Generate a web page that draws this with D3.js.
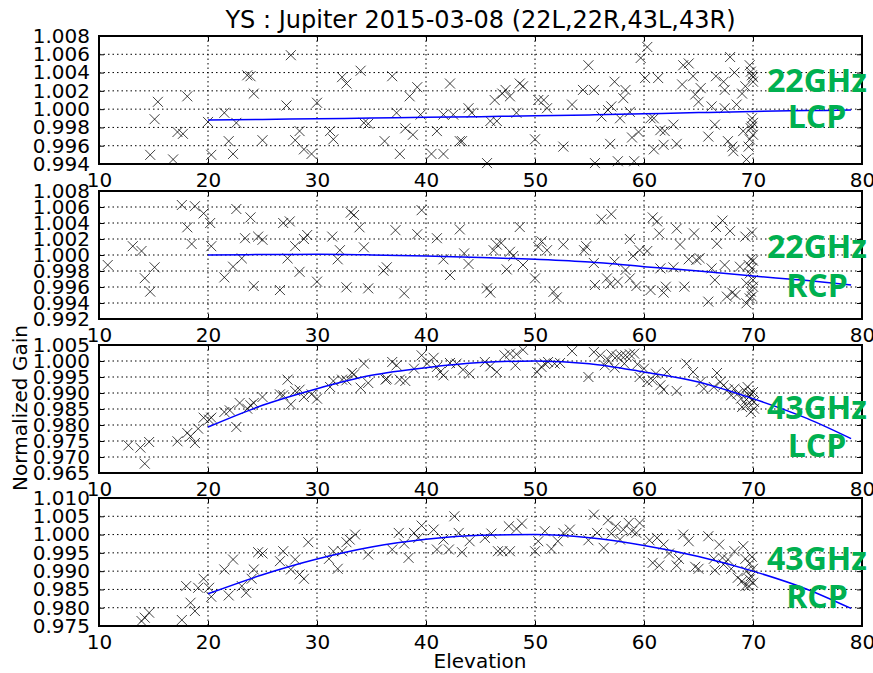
<!DOCTYPE html>
<html>
<head>
<meta charset="utf-8">
<script src="https://cdn.jsdelivr.net/npm/d3@7"></script>
<style>
body{margin:0;background:#fff;}
text{font-family:"DejaVu Sans",sans-serif;}
</style>
</head>
<body>
<div id="chart"></div>
<script>
// measured points [elevation, normalized gain]
var pts22L = [[14.7,0.9950],[15.1,0.9989],[15.4,1.0008],[16.8,0.9945],[17.2,0.9975],[17.7,0.9973],[18.1,1.0014],[20.0,0.9986],[20.3,0.9950],[21.5,0.9996],[21.9,0.9965],[22.3,0.9951],[22.6,0.9985],[23.6,1.0037],[23.9,1.0036],[24.2,1.0017],[25.0,0.9966],[27.2,1.0004],[27.6,1.0059],[28.0,0.9966],[28.4,0.9976],[28.8,0.9956],[29.5,0.9951],[30.0,1.0007],[31.2,0.9976],[31.5,0.9967],[32.3,1.0035],[32.7,1.0028],[34.0,1.0042],[34.3,0.9985],[34.7,0.9984],[36.2,0.9965],[36.9,1.0036],[37.3,0.9996],[37.6,0.9951],[38.1,0.9979],[38.5,1.0014],[38.8,0.9972],[39.2,1.0024],[39.5,0.9994],[40.5,0.9951],[41.0,0.9976],[41.6,0.9994],[41.6,0.9951],[42.2,1.0028],[42.5,0.9994],[43.1,0.9965],[43.3,0.9965],[43.9,1.0001],[44.2,0.9996],[45.6,0.9941],[45.9,0.9987],[46.3,1.0010],[46.5,0.9987],[47.0,1.0017],[47.3,1.0021],[47.7,1.0014],[48.3,0.9996],[48.6,1.0028],[48.9,1.0025],[50.0,0.9967],[50.3,1.0010],[50.8,1.0010],[51.1,1.0001],[52.6,0.9959],[53.4,1.0005],[54.4,1.0021],[54.9,1.0048],[55.4,1.0021],[55.5,0.9941],[56.1,0.9992],[56.7,0.9999],[56.9,0.9962],[57.0,1.0003],[57.3,1.0030],[57.6,0.9943],[57.8,0.9990],[58.1,1.0012],[58.3,1.0021],[58.7,0.9997],[58.9,0.9969],[59.1,0.9943],[59.5,0.9975],[59.7,1.0056],[60.1,1.0034],[60.3,1.0068],[60.6,0.9990],[60.9,0.9990],[60.9,0.9956],[61.3,1.0034],[61.5,0.9977],[61.8,0.9961],[61.9,0.9976],[62.7,0.9983],[63.0,0.9962],[63.5,1.0027],[63.6,1.0048],[64.1,1.0050],[64.5,1.0036],[64.7,1.0016],[65.0,1.0008],[65.2,1.0023],[65.9,0.9970],[66.2,1.0003],[66.5,0.9983],[66.6,1.0036],[67.3,1.0030],[67.4,1.0021],[67.4,1.0001],[67.7,0.9965],[67.9,1.0057],[68.1,0.9959],[68.2,0.9954],[68.3,1.0040],[68.5,1.0005],[69.0,1.0017],[69.1,0.9976],[69.3,1.0025],[69.4,0.9945],[69.6,0.9959],[69.7,1.0048],[69.8,1.0041],[69.9,1.0037],[69.9,0.9990],[70.0,0.9985],[69.8,0.9979],[70.0,0.9972],[69.7,0.9967],[70.0,1.0035],[70.0,1.0030],[69.9,0.9981]];

var pts22R = [[10.8,0.99875],[13.1,1.0011],[13.9,1.0005],[14.2,0.9971],[14.7,0.99542],[15.1,0.99846],[17.6,1.00625],[18.1,1.00346],[18.5,1.00138],[18.8,1.0061],[19.6,1.0052],[20.2,1.0040],[20.3,1.0011],[21.5,0.9972],[22.3,0.99854],[22.6,1.00575],[23.1,0.99958],[23.4,1.0021],[23.9,1.0047],[24.2,0.99612],[24.6,1.0023],[25.0,1.0019],[26.6,0.99562],[26.9,1.0040],[27.5,1.0042],[27.3,0.99958],[28.0,1.0011],[28.4,0.9979],[28.8,1.0020],[29.1,1.0025],[30.0,0.99667],[31.4,1.0023],[32.1,1.0006],[31.9,0.99946],[32.7,0.99596],[33.1,1.0053],[33.4,1.0050],[33.9,1.00346],[34.3,1.00096],[34.7,0.99583],[36.1,0.99804],[36.4,0.99846],[37.2,1.0031],[38.0,0.9952],[39.2,1.0026],[39.6,1.0056],[41.0,1.0021],[41.6,0.99946],[42.2,0.9975],[43.1,1.0032],[43.5,1.0002],[43.9,0.99888],[45.6,0.99583],[45.9,0.9953],[46.2,1.0006],[46.5,1.0013],[46.9,1.0015],[47.4,0.9982],[47.7,1.0004],[48.0,0.99988],[48.6,1.0035],[48.9,0.99875],[50.0,0.99708],[50.3,1.0010],[50.6,1.0017],[51.1,1.0006],[51.7,0.9954],[52.0,0.9947],[52.6,1.0013],[54.5,1.0006],[54.7,1.0011],[55.4,0.9990],[55.5,0.99625],[56.1,1.00446],[57.0,1.0051],[56.6,0.99708],[56.9,0.99638],[57.3,0.99917],[57.6,0.99667],[58.3,0.99813],[58.7,0.99708],[58.7,1.0020],[59.0,0.99988],[59.3,0.99612],[59.6,1.0006],[60.3,1.0005],[60.6,0.99562],[60.8,1.0047],[61.2,1.0042],[61.4,1.0027],[61.5,0.99833],[61.8,0.9953],[62.0,0.99604],[62.7,0.99846],[63.0,1.0033],[63.3,1.0013],[63.7,0.99604],[64.1,0.99946],[64.6,1.0027],[64.8,0.99938],[65.1,0.9996],[65.9,0.99417],[66.2,0.99833],[66.5,0.99688],[66.6,1.0035],[66.7,1.0014],[67.2,1.0043],[67.4,0.99875],[67.6,0.9948],[67.9,1.0030],[68.1,0.9953],[68.4,0.9950],[68.8,0.99854],[69.3,1.0023],[69.4,0.99646],[69.4,0.99396],[69.6,0.99875],[69.7,0.9977],[69.8,0.99946],[69.9,1.0028],[69.9,0.99833],[70.0,0.99604],[69.8,0.99542],[69.9,0.9948],[70.0,0.99688],[69.7,0.99458],[70.0,0.99929]];

var pts43L = [[12.7,0.97365],[13.8,0.97292],[14.2,0.96792],[14.6,0.97469],[17.2,0.9749],[18.1,0.9775],[18.4,0.97646],[18.8,0.97437],[19.1,0.97885],[19.6,0.98229],[20.1,0.98167],[20.3,0.98229],[21.5,0.98406],[22.0,0.98458],[22.6,0.97937],[22.9,0.98688],[23.6,0.9851],[23.9,0.98615],[24.2,0.98688],[25.0,0.98875],[26.6,0.98958],[26.9,0.98927],[27.3,0.99417],[27.6,0.98646],[28.0,0.99063],[28.4,0.99104],[28.8,0.98875],[29.5,0.98958],[30.0,0.98823],[31.2,0.99188],[31.5,0.99375],[32.3,0.99417],[32.7,0.99396],[33.2,0.99625],[33.4,0.99583],[34.0,0.99167],[34.3,0.99917],[34.7,0.99313],[36.3,0.99417],[36.4,0.99448],[36.9,0.99969],[37.3,0.99865],[37.6,0.99417],[38.1,0.99375],[38.9,0.9976],[39.6,1.00177],[40.1,0.99917],[40.7,1.0010],[41.0,0.99813],[41.3,0.99656],[41.6,0.99552],[42.2,0.99938],[42.8,0.99917],[43.4,0.99729],[44.0,0.99604],[45.4,0.99969],[45.9,0.99833],[46.5,0.99656],[47.2,1.00177],[47.7,1.0023],[48.2,0.99865],[48.3,1.0021],[48.9,1.0035],[50.2,0.99656],[50.6,0.99813],[50.9,0.99917],[51.2,0.99969],[51.8,0.99917],[52.3,0.99938],[53.4,1.0031],[54.9,0.995],[55.4,1.0028],[56.0,1.00177],[56.4,0.99865],[56.7,1.0004],[57.0,1.0021],[57.3,0.99792],[57.5,1.00146],[57.9,1.00177],[58.2,0.99917],[58.3,1.00177],[58.7,1.0021],[59.1,1.0023],[59.4,0.99896],[59.6,0.995],[60.0,0.9976],[60.3,0.99344],[60.8,0.99396],[61.1,0.99604],[61.5,0.9924],[61.8,0.99104],[62.1,0.99656],[63.0,0.99063],[63.9,0.99917],[64.5,0.99656],[65.2,0.99344],[65.5,0.99135],[66.4,0.99188],[66.7,0.99625],[67.0,0.99344],[67.3,0.9924],[67.7,0.99104],[68.0,0.98927],[68.3,0.99135],[68.6,0.98979],[68.9,0.98823],[69.2,0.99083],[69.4,0.98615],[69.5,0.99188],[69.7,0.98896],[69.8,0.98406],[69.9,0.98771],[70.0,0.99031],[70.1,0.9851],[70.1,0.98719],[69.7,0.99],[69.4,0.98792],[69.0,0.98562]];

var pts43R = [[13.9,0.97636],[14.2,0.97727],[14.6,0.97864],[17.6,0.97664],[18.0,0.98591],[18.4,0.98136],[18.8,0.97909],[19.1,0.98545],[19.6,0.98791],[20.1,0.98545],[20.3,0.983],[21.5,0.99045],[21.9,0.98336],[22.3,0.99318],[23.1,0.98591],[23.5,0.98409],[24.0,0.98791],[24.2,0.99045],[24.6,0.99518],[25.0,0.99482],[26.6,0.99273],[26.9,0.99545],[27.6,0.99045],[28.0,0.99318],[28.4,0.98909],[28.8,0.98791],[29.2,0.99791],[31.1,0.99336],[31.5,0.99545],[31.9,0.99064],[32.3,0.99545],[32.7,0.99791],[33.0,0.99864],[33.5,1.0000],[34.7,0.99455],[36.9,0.99591],[37.5,1.00045],[38.0,0.99755],[38.4,0.99364],[38.9,1.00045],[39.3,0.99909],[39.6,1.00245],[40.7,1.00136],[41.0,0.99591],[41.6,0.99864],[42.1,0.99591],[42.6,1.0050],[43.0,1.00045],[43.3,0.99518],[44.0,0.99818],[45.4,0.99909],[46.0,1.00027],[46.6,0.99545],[47.0,0.99545],[47.6,1.00227],[47.7,0.99545],[48.3,1.00155],[48.8,1.003],[50.0,0.99545],[50.3,0.99818],[50.9,1.00091],[51.5,0.99609],[52.1,0.99818],[52.6,1.00045],[53.2,1.00136],[54.9,0.99845],[55.4,1.00545],[55.7,1.00045],[56.3,0.99636],[56.7,1.00391],[57.0,1.00027],[57.4,1.00227],[57.8,0.99864],[58.1,1.00136],[58.6,1.00318],[58.9,1.00091],[59.3,1.00045],[59.6,1.00318],[60.5,0.99845],[60.8,0.99227],[61.2,0.99909],[61.4,0.99155],[61.8,0.99727],[62.3,0.99482],[63.0,0.99155],[63.2,0.99336],[63.6,1.0000],[64.1,0.99818],[64.7,0.99118],[65.0,0.99064],[65.9,0.99955],[66.4,0.99336],[66.5,0.99027],[66.9,0.99727],[67.2,0.99364],[67.3,0.99182],[67.7,0.99318],[68.0,0.99064],[68.3,0.99545],[68.6,0.98818],[69.0,0.98727],[69.1,0.99682],[69.3,0.99336],[69.4,0.99],[69.6,0.98591],[69.7,0.99209],[69.8,0.98864],[69.9,0.99391],[70.0,0.98682],[70.0,0.99064],[69.7,0.98773],[69.3,0.98591]];

// fitted gain curves
var fitElev = [20, 25, 30, 35, 40, 45, 50, 55, 60, 65, 70, 75, 79];
var fit22L = [0.99880, 0.99887, 0.99895, 0.99902, 0.99910, 0.99918, 0.99927, 0.99937, 0.99949, 0.99962, 0.99975, 0.99984, 0.99990];
var fit22R = [1.00000, 1.00006, 1.00008, 1.00001, 0.99988, 0.99970, 0.99946, 0.99912, 0.99854, 0.99800, 0.99738, 0.99680, 0.99625];
var fit43L = [0.97937, 0.98615, 0.99135, 0.99552, 0.99792, 0.99950, 1.00000, 0.99917, 0.99656, 0.99344, 0.98823, 0.98198, 0.97573];
var fit43R = [0.98380, 0.98900, 0.99330, 0.99660, 0.99870, 0.99980, 1.00000, 0.99910, 0.99700, 0.99400, 0.99000, 0.98500, 0.97980];

var xTicks = [10, 20, 30, 40, 50, 60, 70, 80];
var yTicks22L = [0.994, 0.996, 0.998, 1.000, 1.002, 1.004, 1.006, 1.008];
var yTicks22R = [0.992, 0.994, 0.996, 0.998, 1.000, 1.002, 1.004, 1.006, 1.008];
var yTicks43L = [0.965, 0.970, 0.975, 0.980, 0.985, 0.990, 0.995, 1.000, 1.005];
var yTicks43R = [0.975, 0.980, 0.985, 0.990, 0.995, 1.000, 1.005, 1.010];
var bandLabels = ["22GHz", "22GHz", "43GHz", "43GHz"];
var polLabels = ["LCP", "RCP", "LCP", "RCP"];

var W = 873, H = 673;
var left = 99, right = 862, panelH = 128;
var tops = [36, 191, 345, 498];
var labelDy = [[56, 92], [67, 106], [74, 112], [72, 110]];

var panels = [
  {pts: pts22L, fit: fit22L, ticks: yTicks22L},
  {pts: pts22R, fit: fit22R, ticks: yTicks22R},
  {pts: pts43L, fit: fit43L, ticks: yTicks43L},
  {pts: pts43R, fit: fit43R, ticks: yTicks43R}
];

var svg = d3.select("#chart").append("svg")
  .attr("width", W).attr("height", H);

var x = d3.scaleLinear().domain([10, 80]).range([left, right]);
var marker = "M-5,-5L5,5M-5,5L5,-5";

panels.forEach(function(p, i) {
  var top = tops[i];
  var y = d3.scaleLinear()
    .domain([p.ticks[0], p.ticks[p.ticks.length - 1]])
    .range([top + panelH, top]);
  var g = svg.append("g");

  // grid
  g.append("g").selectAll("line.gx").data(xTicks.slice(1, -1)).enter().append("line")
    .attr("x1", function(d) { return x(d); }).attr("x2", function(d) { return x(d); })
    .attr("y1", top).attr("y2", top + panelH)
    .attr("stroke", "#000").attr("stroke-width", 1).attr("stroke-dasharray", "1.5,3");
  g.append("g").selectAll("line.gy").data(p.ticks.slice(1, -1)).enter().append("line")
    .attr("x1", left).attr("x2", right)
    .attr("y1", function(d) { return y(d); }).attr("y2", function(d) { return y(d); })
    .attr("stroke", "#000").attr("stroke-width", 1).attr("stroke-dasharray", "1.5,3");

  // ticks inside
  var xAxisB = d3.axisBottom(x).tickValues(xTicks).tickSize(-5).tickPadding(9)
    .tickFormat(d3.format("d"));
  var xAxisT = d3.axisTop(x).tickValues(xTicks).tickSize(-5).tickFormat("");
  var yAxisL = d3.axisLeft(y).tickValues(p.ticks).tickSize(-5).tickPadding(9)
    .tickFormat(d3.format(".3f"));
  var yAxisR = d3.axisRight(y).tickValues(p.ticks).tickSize(-5).tickFormat("");

  [g.append("g").attr("transform", "translate(0," + (top + panelH) + ")").call(xAxisB),
   g.append("g").attr("transform", "translate(0," + top + ")").call(xAxisT),
   g.append("g").attr("transform", "translate(" + left + ",0)").call(yAxisL),
   g.append("g").attr("transform", "translate(" + right + ",0)").call(yAxisR)
  ].forEach(function(a) {
    a.select(".domain").remove();
    a.selectAll("line").attr("stroke", "#000");
    a.selectAll("text").attr("fill", "#000").style("font-size", "20px")
      .style("font-family", "DejaVu Sans, sans-serif");
  });

  // points
  g.append("g").selectAll("path").data(p.pts).enter().append("path")
    .attr("d", marker)
    .attr("transform", function(d) { return "translate(" + x(d[0]) + "," + y(d[1]) + ")"; })
    .attr("fill", "none").attr("stroke", "#000").attr("stroke-width", 1)
    .attr("stroke-opacity", 0.75);

  // fit curve
  var line = d3.line()
    .x(function(d, k) { return x(fitElev[k]); })
    .y(function(d) { return y(d); })
    .curve(d3.curveMonotoneX);
  g.append("path").datum(p.fit).attr("d", line)
    .attr("fill", "none").attr("stroke", "#0000ff").attr("stroke-width", 1.5);

  // frame
  g.append("rect").attr("x", left).attr("y", top)
    .attr("width", right - left).attr("height", panelH)
    .attr("fill", "none").attr("stroke", "#000").attr("stroke-width", 2);

  // band labels
  g.append("text").attr("x", 817).attr("y", top + labelDy[i][0])
    .attr("text-anchor", "middle").attr("fill", "#00b050")
    .style("font-family", "Open Sans, sans-serif").style("font-weight", "bold")
    .style("font-size", "32px").text(bandLabels[i]);
  g.append("text").attr("x", 817).attr("y", top + labelDy[i][1])
    .attr("text-anchor", "middle").attr("fill", "#00b050")
    .style("font-family", "Open Sans, sans-serif").style("font-weight", "bold")
    .style("font-size", "32px").text(polLabels[i]);
});

svg.append("text").attr("x", 480.5).attr("y", 28)
  .attr("text-anchor", "middle").style("font-size", "24px")
  .text("YS : Jupiter 2015-03-08 (22L,22R,43L,43R)");

svg.append("text").attr("x", 480).attr("y", 668)
  .attr("text-anchor", "middle").style("font-size", "20px")
  .text("Elevation");

svg.append("text")
  .attr("transform", "translate(27,408) rotate(-90)")
  .attr("text-anchor", "middle").style("font-size", "20px")
  .text("Normalized Gain");
</script>
</body>
</html>
